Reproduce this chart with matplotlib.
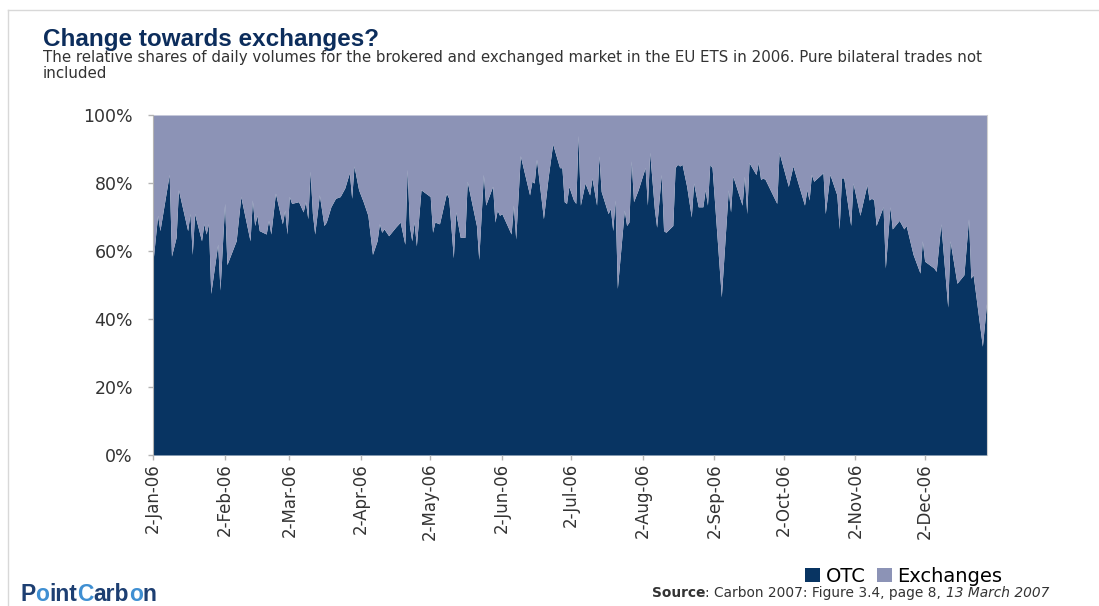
import matplotlib
matplotlib.use("Agg")
import matplotlib.pyplot as plt
from matplotlib.patches import Patch
from matplotlib.lines import Line2D
import pandas as pd

# ---------------- data ----------------
dates = [
    "2006-01-02", "2006-01-04", "2006-01-05", "2006-01-09", "2006-01-10", "2006-01-12",
    "2006-01-13", "2006-01-17", "2006-01-18", "2006-01-19", "2006-01-20", "2006-01-23",
    "2006-01-24", "2006-01-25", "2006-01-26", "2006-01-27", "2006-01-30", "2006-01-31",
    "2006-02-02", "2006-02-03", "2006-02-07", "2006-02-09", "2006-02-13", "2006-02-14",
    "2006-02-15", "2006-02-16", "2006-02-17", "2006-02-20", "2006-02-21", "2006-02-22",
    "2006-02-24", "2006-02-27", "2006-02-28", "2006-03-01", "2006-03-02", "2006-03-03",
    "2006-03-06", "2006-03-08", "2006-03-09", "2006-03-10", "2006-03-11", "2006-03-12",
    "2006-03-13", "2006-03-15", "2006-03-17", "2006-03-18", "2006-03-20", "2006-03-22",
    "2006-03-24", "2006-03-26", "2006-03-28", "2006-03-29", "2006-03-30", "2006-04-01",
    "2006-04-03", "2006-04-05", "2006-04-07", "2006-04-09", "2006-04-10", "2006-04-11",
    "2006-04-12", "2006-04-14", "2006-04-17", "2006-04-19", "2006-04-21", "2006-04-22",
    "2006-04-23", "2006-04-24", "2006-04-25", "2006-04-26", "2006-04-28", "2006-05-02",
    "2006-05-03", "2006-05-04", "2006-05-06", "2006-05-09", "2006-05-10", "2006-05-12",
    "2006-05-13", "2006-05-15", "2006-05-17", "2006-05-18", "2006-05-22", "2006-05-23",
    "2006-05-25", "2006-05-26", "2006-05-29", "2006-05-30", "2006-05-31", "2006-06-01",
    "2006-06-02", "2006-06-06", "2006-06-07", "2006-06-08", "2006-06-10", "2006-06-14",
    "2006-06-15", "2006-06-16", "2006-06-17", "2006-06-20", "2006-06-22", "2006-06-24",
    "2006-06-27", "2006-06-28", "2006-06-29", "2006-06-30", "2006-07-01", "2006-07-03",
    "2006-07-04", "2006-07-05", "2006-07-06", "2006-07-08", "2006-07-10", "2006-07-11",
    "2006-07-13", "2006-07-14", "2006-07-15", "2006-07-18", "2006-07-19", "2006-07-20",
    "2006-07-21", "2006-07-22", "2006-07-25", "2006-07-26", "2006-07-27", "2006-07-28",
    "2006-07-29", "2006-07-31", "2006-08-03", "2006-08-04", "2006-08-05", "2006-08-07",
    "2006-08-08", "2006-08-10", "2006-08-11", "2006-08-12", "2006-08-15", "2006-08-16",
    "2006-08-17", "2006-08-18", "2006-08-19", "2006-08-21", "2006-08-23", "2006-08-24",
    "2006-08-26", "2006-08-28", "2006-08-29", "2006-08-30", "2006-08-31", "2006-09-01",
    "2006-09-05", "2006-09-08", "2006-09-09", "2006-09-10", "2006-09-14", "2006-09-15",
    "2006-09-16", "2006-09-17", "2006-09-20", "2006-09-21", "2006-09-22", "2006-09-23",
    "2006-09-24", "2006-09-29", "2006-09-30", "2006-10-04", "2006-10-06", "2006-10-11",
    "2006-10-12", "2006-10-13", "2006-10-14", "2006-10-15", "2006-10-19", "2006-10-20",
    "2006-10-22", "2006-10-25", "2006-10-26", "2006-10-27", "2006-10-28", "2006-10-31",
    "2006-11-01", "2006-11-04", "2006-11-07", "2006-11-08", "2006-11-09", "2006-11-10",
    "2006-11-11", "2006-11-14", "2006-11-15", "2006-11-17", "2006-11-18", "2006-11-21",
    "2006-11-23", "2006-11-24", "2006-11-27", "2006-11-30", "2006-12-01", "2006-12-02",
    "2006-12-06", "2006-12-07", "2006-12-09", "2006-12-12", "2006-12-13", "2006-12-16",
    "2006-12-19", "2006-12-21", "2006-12-22", "2006-12-23", "2006-12-27", "2006-12-29",
]

otc_share = [
    57, 70.5, 66, 82.5, 58.5, 64,
    78, 66, 71, 59, 71, 63,
    68, 65, 68, 47.5, 62, 48.5,
    74, 56, 63, 76, 63, 75,
    67.5, 70.5, 66, 65, 69, 65,
    77, 68, 72, 65, 76, 74,
    74.5, 71.5, 74.5, 69.5, 83.5, 71,
    65, 76.5, 67.5, 68.5, 73, 75.5,
    76, 78.5, 83, 75.5, 85, 78,
    74.5, 70.5, 59, 63, 68, 65.5,
    66.5, 64.5, 67, 68.5, 62, 84,
    67.5, 63, 68.5, 61.5, 78, 76,
    65.5, 68.5, 68, 77, 75.5, 58,
    71.5, 64, 64, 80.5, 67.5, 57.5,
    82.5, 73.5, 79, 68.5, 72, 70.5,
    71, 65, 73.5, 63.5, 88, 76.5,
    80.5, 80, 87, 69.5, 81.5, 91.5,
    84.5, 84.5, 74.5, 74, 79, 75,
    74, 94, 73.5, 80, 76.5, 81.5,
    73.5, 88, 77.5, 71, 72.5, 66,
    75, 49, 72, 67.5, 68.5, 86.5,
    74.5, 78, 84.5, 73.5, 89, 72.5,
    67, 82.5, 66, 65.5, 67.5, 84.5,
    85.5, 85, 85.5, 79, 70, 80,
    73, 73, 78, 73.5, 85.5, 84.5,
    46.5, 78, 71.5, 82, 73.5, 82,
    71, 86, 82.5, 86, 81, 81.5,
    81, 74, 89, 79, 85, 73.5,
    78, 75, 82.5, 80.5, 83, 71,
    82.5, 76.5, 66.5, 81.5, 81.5, 67.5,
    80, 70.5, 79.5, 75, 75.5, 75,
    67.5, 73, 55, 73, 66.5, 69,
    66.5, 67.5, 59, 53.5, 63, 57,
    55, 54, 68, 43.5, 63, 50.5,
    53, 69.5, 52, 53, 32, 46,
]

exchanges_share = [100 - v for v in otc_share]

series_names = ["OTC", "Exchanges"]

y_ticks = [0, 20, 40, 60, 80, 100]
y_tick_labels = ["0%", "20%", "40%", "60%", "80%", "100%"]

x_tick_dates = ["2006-01-02", "2006-02-02", "2006-03-02", "2006-04-02", "2006-05-02",
                "2006-06-02", "2006-07-02", "2006-08-02", "2006-09-02", "2006-10-02",
                "2006-11-02", "2006-12-02"]
x_tick_labels = ["2-Jan-06", "2-Feb-06", "2-Mar-06", "2-Apr-06", "2-May-06", "2-Jun-06",
                 "2-Jul-06", "2-Aug-06", "2-Sep-06", "2-Oct-06", "2-Nov-06", "2-Dec-06"]

title = "Change towards exchanges?"
subtitle_lines = ["The relative shares of daily volumes for the brokered and exchanged market "
                  "in the EU ETS in 2006. Pure bilateral trades not",
                  "included"]

# ---------------- style ----------------
W, H = 1099, 606
NAVY = "#083462"
LAVENDER = "#8c93b6"
TITLE_C = "#0c2d5c"
TEXT_C = "#333333"
GRID_C = "#b4b4b4"
PX = 72 / 100  # points per pixel

fig = plt.figure(figsize=(W / 100, H / 100), dpi=100)
fig.patch.set_facecolor("white")

ax = fig.add_axes([153 / W, 1 - 455 / H, (987 - 153) / W, (455 - 115) / H])
d = pd.to_datetime(dates)
ax.fill_between(d, 0, otc_share, color=NAVY, lw=0, label=series_names[0])
ax.fill_between(d, otc_share, [o + e for o, e in zip(otc_share, exchanges_share)],
                color=LAVENDER, lw=0, label=series_names[1])
ax.set_xlim(d[0], d[-1])
ax.set_ylim(0, 100)

ax.set_yticks(y_ticks)
ax.set_yticklabels(y_tick_labels, fontsize=12.5, color=TEXT_C, family="DejaVu Sans")
ax.set_xticks(pd.to_datetime(x_tick_dates))
ax.set_xticklabels(x_tick_labels, rotation=90, fontsize=12, color=TEXT_C,
                   family="DejaVu Sans", ha="center", va="top")
ax.tick_params(axis="y", length=5 * PX, width=1, color=GRID_C, pad=15 * PX)
ax.tick_params(axis="x", length=5 * PX, width=1, color=GRID_C, pad=3 * PX)

for s in ["top", "bottom"]:
    ax.spines[s].set_visible(False)
ax.spines["left"].set_color(GRID_C)
ax.spines["right"].set_color("#d0d0d0")

# frame lines of the page
fig.add_artist(Line2D([8 / W, 1], [1 - 10 / H, 1 - 10 / H], color="#d8d8d8", lw=1))
fig.add_artist(Line2D([8 / W, 8 / W], [0, 1 - 10 / H], color="#d8d8d8", lw=1))

# title and subtitle
fig.text(43 / W, 1 - 46 / H, title, fontsize=17.5, weight="bold", color=TITLE_C,
         family="Liberation Sans", va="baseline", ha="left")
for i, line in enumerate(subtitle_lines):
    fig.text(43 / W, 1 - (62 + 16 * i) / H, line, fontsize=10.8, color=TEXT_C,
             family="DejaVu Sans", va="baseline", ha="left")

# legend
handles = [Patch(facecolor=NAVY, edgecolor="none"), Patch(facecolor=LAVENDER, edgecolor="none")]
fig.legend(handles, series_names, loc="center left", bbox_to_anchor=(805 / W, 1 - 576 / H),
           ncol=2, frameon=False, handlelength=0.75, handleheight=0.75,
           handletextpad=0.3, columnspacing=0.6, borderpad=0, borderaxespad=0,
           prop={"family": "DejaVu Sans", "size": 14})

renderer = fig.canvas.get_renderer()


def text_width(s, **kw):
    t = fig.text(0, 0, s, **kw)
    w = t.get_window_extent(renderer=renderer).width
    t.remove()
    return w


def text_runs(x_px, y_px, parts, **common):
    prefix = ""
    for s, kw in parts:
        opts = dict(common)
        opts.update(kw)
        x = x_px + (text_width(prefix, **common) if prefix else 0)
        fig.text(x / W, 1 - y_px / H, s, ha="left", va="baseline", **opts)
        prefix += s


fig_source = [("Source", {"weight": "bold"}),
              (": Carbon 2007: Figure 3.4, page 8, ", {}),
              ("13 March 2007", {"style": "italic"})]
x0 = 652
rx = x0
for s, kw in fig_source:
    opts = dict(fontsize=9.9, color=TEXT_C, family="DejaVu Sans")
    opts.update(kw)
    t = fig.text(rx / W, 1 - 597 / H, s, ha="left", va="baseline", **opts)
    rx += t.get_window_extent(renderer=renderer).width

LOGO_D = "#1d3f72"
LOGO_L = "#3f8fd2"
text_runs(20, 601, [("P", {"color": LOGO_D}), ("o", {"color": LOGO_L}),
                    ("int", {"color": LOGO_D}), ("C", {"color": LOGO_L}),
                    ("arb", {"color": LOGO_D}), ("o", {"color": LOGO_L}),
                    ("n", {"color": LOGO_D})],
          fontsize=16.5, weight="bold", family="Liberation Sans")

fig.savefig("out.png", dpi=100)
